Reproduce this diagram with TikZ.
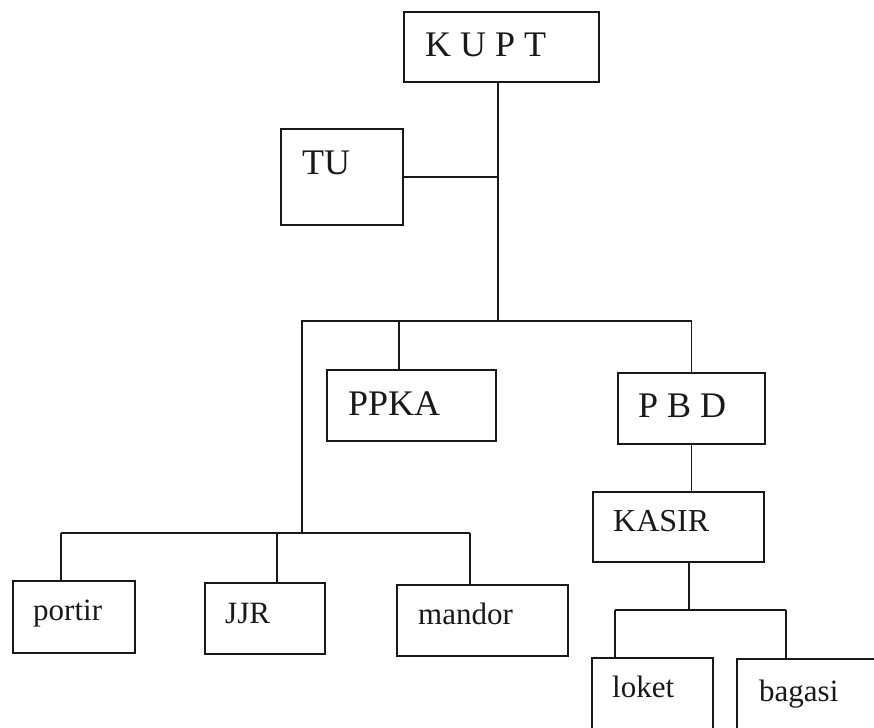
\documentclass[tikz,border=0pt]{standalone}
\usepackage{fontspec}
\setmainfont{Liberation Serif}
\begin{document}
\begin{tikzpicture}[x=1pt,y=-1pt,
  box/.style={draw=black!90, line width=1.6pt, inner sep=0pt, anchor=north west},
  lbl/.style={anchor=base west, inner sep=0pt, text=black!90},
  big/.style={font=\fontsize{36}{40}\selectfont},
  mid/.style={font=\fontsize{32}{36}\selectfont},
  sml/.style={font=\fontsize{31}{35}\selectfont},
  conn/.style={draw=black!90, line width=1.6pt}]
\clip (0,0) rectangle (874,727);
\fill[white] (0,0) rectangle (874,727);

% boxes
\node[box, minimum width=195pt, minimum height=70pt] (kupt) at (403,11) {};
\node[box, minimum width=122pt, minimum height=96pt] (tu) at (280,128) {};
\node[box, minimum width=169pt, minimum height=71pt] (ppka) at (326,369) {};
\node[box, minimum width=147pt, minimum height=71pt] (pbd) at (617,372) {};
\node[box, minimum width=171pt, minimum height=70pt] (kasir) at (592,491) {};
\node[box, minimum width=122pt, minimum height=72pt] (portir) at (12,580) {};
\node[box, minimum width=120pt, minimum height=71pt] (jjr) at (204,582) {};
\node[box, minimum width=171pt, minimum height=71pt] (mandor) at (396,584) {};
\node[box, minimum width=121pt, minimum height=100pt] (loket) at (591,657) {};
\node[box, minimum width=200pt, minimum height=100pt] (bagasi) at (736,658) {};

% labels
\node[lbl, big] (tkupt) at (425,57) {K U P T};
\node[lbl, big] (ttu) at (302,175) {TU};
\node[lbl, big] (tppka) at (348,415) {PPKA};
\node[lbl, big] (tpbd) at (638,417) {P B D};
\node[lbl, mid] (tkasir) at (613,531) {KASIR};
\node[lbl, sml] (tportir) at (33,620) {portir};
\node[lbl, sml] (tjjr) at (225,623) {JJR};
\node[lbl, sml] (tmandor) at (418,624) {mandor};
\node[lbl, sml] (tloket) at (612,697) {loket};
\node[lbl, sml] (tbagasi) at (759,701) {bagasi};

% junctions
\coordinate (jMain) at (498,321);
\coordinate (cPPKA) at (399,321);
\coordinate (jLow) at (302,533);
\coordinate (cPortir) at (61,533);
\coordinate (cJJR) at (277,533);
\coordinate (cMandor) at (470,533);
\coordinate (cK) at (689,610);
\coordinate (cLoket) at (615,610);
\coordinate (cBag) at (786,610);

% connectors
\draw[conn] (kupt.south -| jMain) -- (jMain);
\draw[conn] (tu.east) -- (tu.east -| jMain);
\draw[conn] (pbd.north) |- (jMain);
\draw[conn] (jMain) -| (jLow);
\draw[conn] (cPPKA) -- (cPPKA |- ppka.north);
\draw[conn] (cPortir) -- (cMandor);
\draw[conn] (cPortir) -- (cPortir |- portir.north);
\draw[conn] (cJJR) -- (cJJR |- jjr.north);
\draw[conn] (cMandor) -- (cMandor |- mandor.north);
\draw[conn] (pbd.south) -- (pbd.south |- kasir.north);
\draw[conn] (kasir.south -| cK) -- (cK);
\draw[conn] (cLoket) -- (cBag);
\draw[conn] (cLoket) -- (cLoket |- loket.north);
\draw[conn] (cBag) -- (cBag |- bagasi.north);
\end{tikzpicture}
\end{document}
